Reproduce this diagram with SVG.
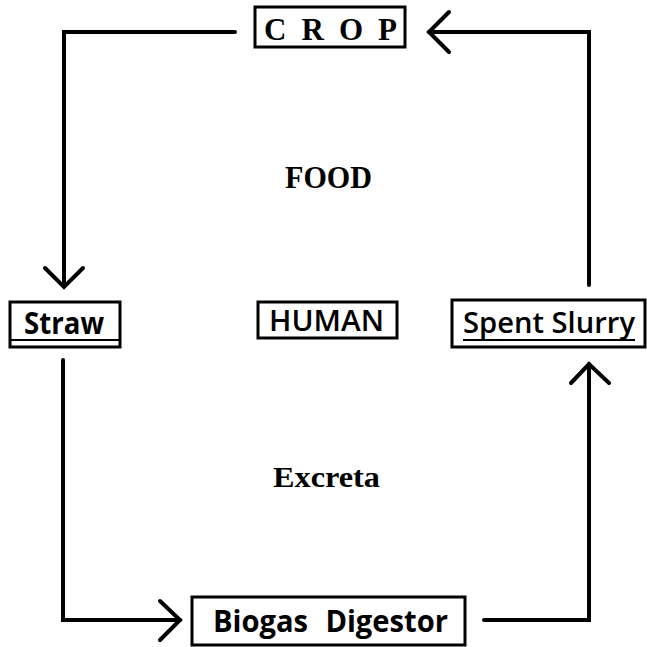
<svg xmlns="http://www.w3.org/2000/svg" width="647" height="647" viewBox="0 0 647 647">
<style>
.box{fill:#fff;stroke:#000;stroke-width:3}
.ln{fill:none;stroke:#000;stroke-width:4;stroke-linejoin:miter;stroke-linecap:round}
.serif{font-family:"Liberation Serif","Times New Roman",serif;font-weight:bold;fill:#000}
.sans{font-family:"Open Sans","Liberation Sans",Arial,sans-serif;fill:#000}
</style>
<rect width="647" height="647" fill="#fff"/>
<g id="connectors">
<path class="ln" d="M235,32 H64 V286"/>
<path class="ln" d="M45,268 L64,287 L83,268"/>
<path class="ln" d="M589,285 V32 H429"/>
<path class="ln" d="M449,12 L429,32 L449,52"/>
<path class="ln" d="M63,360 V620 H180"/>
<path class="ln" d="M160,601 L180,620 L160,640"/>
<path class="ln" d="M484,620 H589 V364"/>
<path class="ln" d="M571,383 L589,364 L609,383"/>
</g>
<g id="crop">
<rect class="box" x="255" y="7" width="150" height="40"/>
<text class="serif" x="264" y="40" font-size="31" textLength="133" lengthAdjust="spacing">C R O P</text>
</g>
<g id="food">
<text class="serif" x="285" y="188" font-size="32" textLength="87" lengthAdjust="spacingAndGlyphs">FOOD</text>
</g>
<g id="straw">
<rect class="box" x="10" y="302" width="110" height="45"/>
<line x1="10" y1="340" x2="120" y2="340" stroke="#000" stroke-width="2"/>
<text class="sans" font-weight="bold" x="24" y="334" font-size="30" textLength="80" lengthAdjust="spacingAndGlyphs">Straw</text>
</g>
<g id="human">
<rect class="box" x="258" y="302" width="139" height="36"/>
<text class="sans" font-weight="600" x="269" y="331" font-size="29" textLength="115" lengthAdjust="spacingAndGlyphs">HUMAN</text>
</g>
<g id="spent-slurry">
<rect class="box" x="452" y="300" width="193" height="47"/>
<text class="sans" font-weight="600" x="463" y="333" font-size="28" textLength="172" lengthAdjust="spacingAndGlyphs">Spent Slurry</text>
<line x1="463" y1="340" x2="635" y2="340" stroke="#000" stroke-width="2"/>
</g>
<g id="excreta">
<text class="serif" x="273" y="487" font-size="29" textLength="107" lengthAdjust="spacingAndGlyphs">Excreta</text>
</g>
<g id="biogas-digestor">
<rect class="box" x="192" y="597" width="273" height="48"/>
<text class="sans" font-weight="bold" x="213" y="632" font-size="30" textLength="235" lengthAdjust="spacingAndGlyphs" word-spacing="10">Biogas Digestor</text>
</g>
</svg>
